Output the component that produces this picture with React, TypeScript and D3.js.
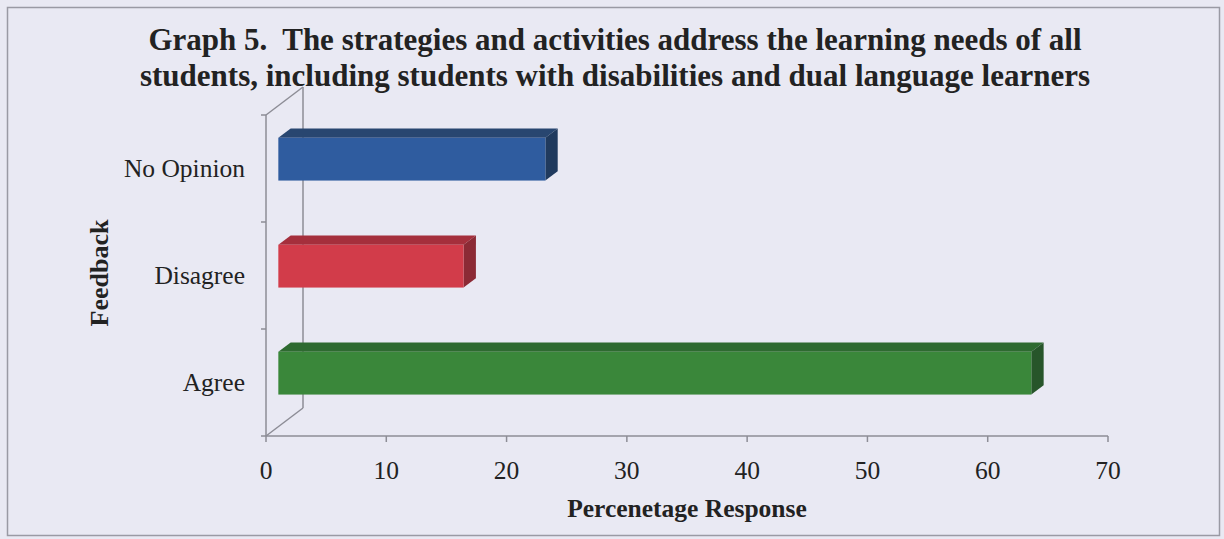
import React from 'react';
import * as d3 from 'd3';

const categories = ['No Opinion', 'Disagree', 'Agree'];
const values = [22.2, 15.4, 62.6];
const xTicks = [0, 10, 20, 30, 40, 50, 60, 70];

const colors = [
  { front: '#2f5c9f', top: '#284670', side: '#203a5e' },
  { front: '#d23c4a', top: '#a52f3c', side: '#8c2a35' },
  { front: '#3a873a', top: '#2e6a30', side: '#27552a' },
];

const W = 1224;
const H = 539;
const depth = { dx: 37, dy: -28 };
const font = '"Liberation Serif", "Times New Roman", serif';
const lineColor = '#8d8d96';

export default function App() {
  const x = d3.scaleLinear().domain([0, 70]).range([266, 1108]);
  const y = d3.scaleBand().domain(categories).range([115, 436]).paddingInner(0.6).paddingOuter(0.3);
  const yBand = d3.scaleBand().domain(categories).range([115, 436]);

  const f0 = 1 / 3;
  const f1 = 2 / 3;
  const ox0 = depth.dx * f0, oy0 = depth.dy * f0;
  const ox1 = depth.dx * f1, oy1 = depth.dy * f1;

  const x0 = x(0);
  const yTop = yBand.range()[0];
  const yBot = yBand.range()[1];

  return (
    <div style={{ position: 'fixed', left: 0, top: 0 }}>
      <svg width={W} height={H} viewBox={`0 0 ${W} ${H}`} style={{ display: 'block' }}>
        <rect x={0} y={0} width={W} height={H} fill="#e9e9f3" />
        <rect x={7.5} y={7.5} width={1212} height={528} fill="none" stroke="#9a9aa4" strokeWidth={1.5} />

        <text x={615} y={50} textAnchor="middle" fontFamily={font} fontWeight="bold" fontSize={31} fill="#222">
          {'Graph 5.\u00a0 The strategies and activities address the learning needs of all'}
        </text>
        <text x={615} y={86} textAnchor="middle" fontFamily={font} fontWeight="bold" fontSize={31} fill="#222">
          students, including students with disabilities and dual language learners
        </text>

        {/* back wall & floor edges */}
        <g stroke={lineColor} strokeWidth={1.5} fill="none">
          <line x1={x0} y1={yTop} x2={x0 + depth.dx} y2={yTop + depth.dy} />
          <line x1={x0 + depth.dx} y1={yTop + depth.dy} x2={x0 + depth.dx} y2={yBot + depth.dy} />
          <line x1={x0} y1={yBot} x2={x0 + depth.dx} y2={yBot + depth.dy} />
          <line x1={x0} y1={yTop} x2={x0} y2={yBot} />
          <line x1={x0 - 5} y1={yBot} x2={x(70)} y2={yBot} />
          {categories.map((c) => (
            <line key={c} x1={x0 - 5} y1={yBand(c)!} x2={x0} y2={yBand(c)!} />
          ))}
          {xTicks.map((t) => (
            <line key={t} x1={x(t)} y1={yBot} x2={x(t)} y2={yBot + 6} />
          ))}
        </g>

        {/* bars */}
        {categories.map((c, i) => {
          const by = y(c)!;
          const bh = y.bandwidth();
          const xl = x0 + ox0;
          const xr = x(values[i]) + ox0;
          const ft = by + oy0;
          const fb = by + bh + oy0;
          const dX = ox1 - ox0;
          const dY = oy1 - oy0;
          const col = colors[i];
          return (
            <g key={c}>
              <path d={`M${xl},${ft} L${xl + dX},${ft + dY} L${xr + dX},${ft + dY} L${xr},${ft} Z`} fill={col.top} />
              <path d={`M${xr},${ft} L${xr + dX},${ft + dY} L${xr + dX},${fb + dY} L${xr},${fb} Z`} fill={col.side} />
              <rect x={xl} y={ft} width={xr - xl} height={fb - ft} fill={col.front} />
            </g>
          );
        })}

        {/* category labels */}
        {categories.map((c) => (
          <text key={c} x={245} y={yBand(c)! + yBand.bandwidth() / 2 + 8} textAnchor="end" fontFamily={font} fontSize={25.5} fill="#222">
            {c}
          </text>
        ))}

        {/* x tick labels */}
        {xTicks.map((t) => (
          <text key={t} x={x(t)} y={479} textAnchor="middle" fontFamily={font} fontSize={25.5} fill="#222">
            {t}
          </text>
        ))}

        <text x={687} y={517} textAnchor="middle" fontFamily={font} fontWeight="bold" fontSize={25.5} fill="#222">
          Percenetage Response
        </text>
        <text transform={`translate(108,273) rotate(-90)`} textAnchor="middle" fontFamily={font} fontWeight="bold" fontSize={26} fill="#222">
          Feedback
        </text>
      </svg>
    </div>
  );
}
